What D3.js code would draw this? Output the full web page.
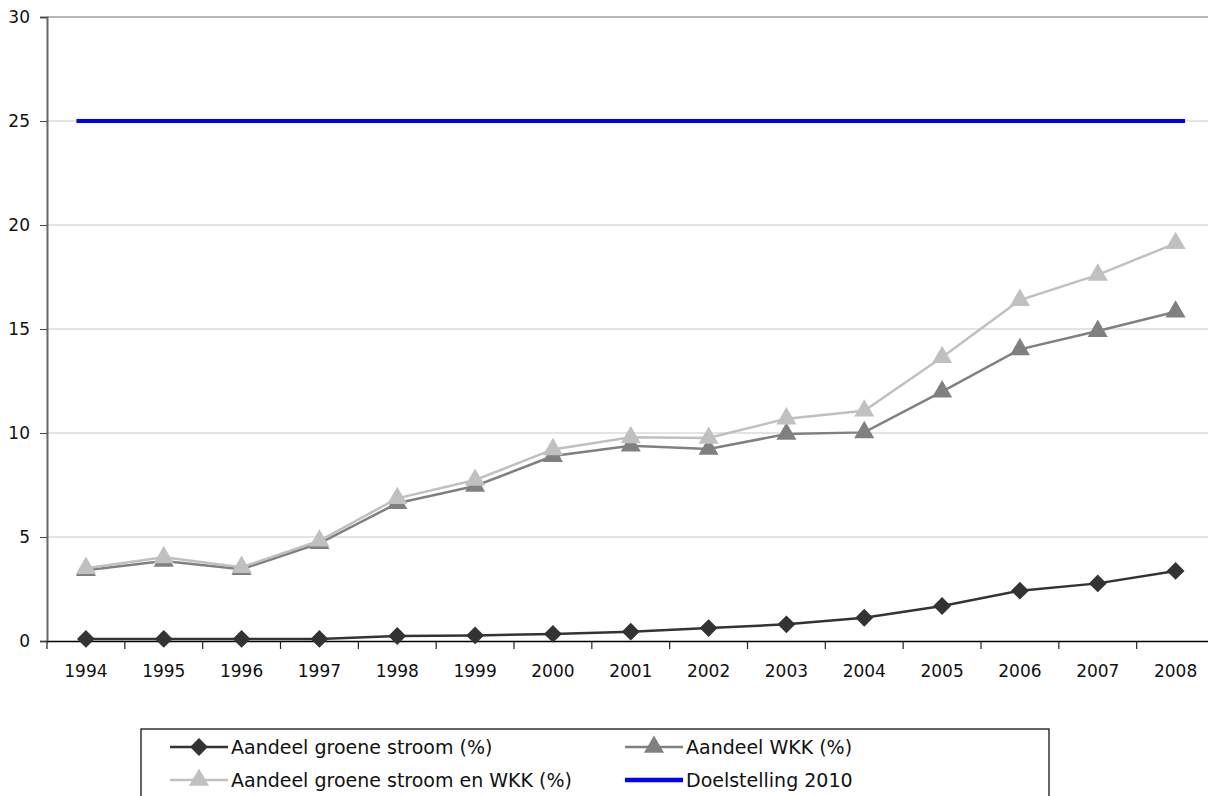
<!DOCTYPE html>
<html><head><meta charset="utf-8">
<script src="https://cdn.jsdelivr.net/npm/d3@7"></script>
<style>
body{margin:0;background:#fff;}
svg{display:block;}
</style></head><body>
<svg id="chart" width="1208" height="796"></svg>
<script>
const years = [1994,1995,1996,1997,1998,1999,2000,2001,2002,2003,2004,2005,2006,2007,2008];
const groeneStroom = [0.1,0.1,0.1,0.1,0.24,0.27,0.34,0.45,0.62,0.8,1.12,1.68,2.42,2.77,3.37];
const wkk = [3.4,3.85,3.45,4.7,6.62,7.45,8.89,9.39,9.23,9.95,10.03,11.99,14.02,14.9,15.83];
const groeneEnWkk = [3.5,4.02,3.55,4.82,6.86,7.74,9.21,9.79,9.76,10.69,11.07,13.64,16.39,17.6,19.12];
const doelstelling = [25,25,25,25,25,25,25,25,25,25,25,25,25,25,25];
const yTicks = [0,5,10,15,20,25,30];
const seriesNames = ["Aandeel groene stroom (%)","Aandeel WKK (%)","Aandeel groene stroom en WKK (%)","Doelstelling 2010"];

const svg = d3.select("#chart");
const x = d3.scaleBand().domain(years).range([47,1214.5]).padding(0);
const y = d3.scaleLinear().domain([0,30]).range([641,17]);
const cx = d => x(d) + x.bandwidth()/2;

// gridlines
svg.append("g").selectAll("line").data(yTicks.filter(t=>t>0)).join("line")
  .attr("x1",47).attr("x2",1208).attr("y1",d=>y(d)).attr("y2",d=>y(d))
  .attr("stroke",d=>d===30?"#b8b8b8":"#c8c8c8").attr("stroke-width",d=>d===30?2:1);

// y axis
const yAxis = svg.append("g").attr("transform","translate(47,0)")
  .call(d3.axisLeft(y).tickValues(yTicks).tickSize(7).tickPadding(10));
yAxis.select(".domain").attr("stroke","#666").attr("stroke-width",2);
yAxis.selectAll(".tick line").attr("stroke","#444");
yAxis.selectAll("text").attr("font-family","DejaVu Sans").attr("font-size",17).attr("fill","#111");

// x axis
const xAxis = svg.append("g").attr("transform","translate(0,641)")
  .call(d3.axisBottom(x).tickSize(0).tickPadding(24));
xAxis.select(".domain").attr("stroke","#000").attr("stroke-width",1.5);
xAxis.selectAll("text").attr("font-family","DejaVu Sans").attr("font-size",17).attr("fill","#111");
svg.append("g").selectAll("line").data(years.concat(["end"])).join("line")
  .attr("x1",d=>d==="end"?x(2008)+x.bandwidth():x(d)).attr("x2",d=>d==="end"?x(2008)+x.bandwidth():x(d))
  .attr("y1",641).attr("y2",649).attr("stroke","#222").attr("stroke-width",1.2);

const line = d3.line().x((d,i)=>cx(years[i])).y(d=>y(d));
const square = d3.symbol().type(d3.symbolSquare).size(160);
const tri = d3.symbol().type(d3.symbolTriangle).size(175);

function drawSeries(vals,color,marker,rot,width){
  const g = svg.append("g");
  g.append("path").datum(vals).attr("d",line).attr("fill","none").attr("stroke",color).attr("stroke-width",width);
  g.selectAll("path.m").data(vals).join("path").attr("class","m")
    .attr("d",marker).attr("fill",color)
    .attr("transform",(d,i)=>`translate(${cx(years[i])},${y(d)}) rotate(${rot})`);
}
drawSeries(groeneStroom,"#333333",square,45,2.5);
drawSeries(wkk,"#808080",tri,0,2.5);
drawSeries(groeneEnWkk,"#c0c0c0",tri,0,2.5);
// target line with dash markers
const gb = svg.append("g");
gb.append("path").datum(doelstelling).attr("d",line).attr("fill","none").attr("stroke","#0000ff").attr("stroke-width",4);
gb.selectAll("rect").data(doelstelling).join("rect")
  .attr("x",(d,i)=>cx(years[i])-9.5).attr("y",d=>y(d)-2).attr("width",19).attr("height",4).attr("fill","#0000ff");

// legend
const lg = svg.append("g");
lg.append("rect").attr("x",141).attr("y",729).attr("width",908).attr("height",120)
  .attr("fill","#fff").attr("stroke","#000").attr("stroke-width",1.2);
const legendItems = [
  {name:seriesNames[0],color:"#333333",marker:square,rot:45,col:0,row:0},
  {name:seriesNames[1],color:"#808080",marker:tri,rot:0,col:1,row:0},
  {name:seriesNames[2],color:"#c0c0c0",marker:tri,rot:0,col:0,row:1},
  {name:seriesNames[3],color:"#0000ff",marker:null,rot:0,col:1,row:1}
];
legendItems.forEach(it=>{
  const lx = it.col===0?170:625, ly = it.row===0?747:780;
  lg.append("line").attr("x1",lx).attr("x2",lx+58).attr("y1",ly).attr("y2",ly)
    .attr("stroke",it.color).attr("stroke-width",it.marker?2.5:4.5);
  if(it.marker){
    lg.append("path").attr("d",it.marker).attr("fill",it.color)
      .attr("transform",`translate(${lx+29},${ly}) rotate(${it.rot})`);
  }
  lg.append("text").attr("x",lx+61).attr("y",ly).attr("dy","0.36em")
    .attr("font-family","DejaVu Sans")
    .attr("font-size",19).attr("fill","#111").text(it.name);
});
</script>
</body></html>
